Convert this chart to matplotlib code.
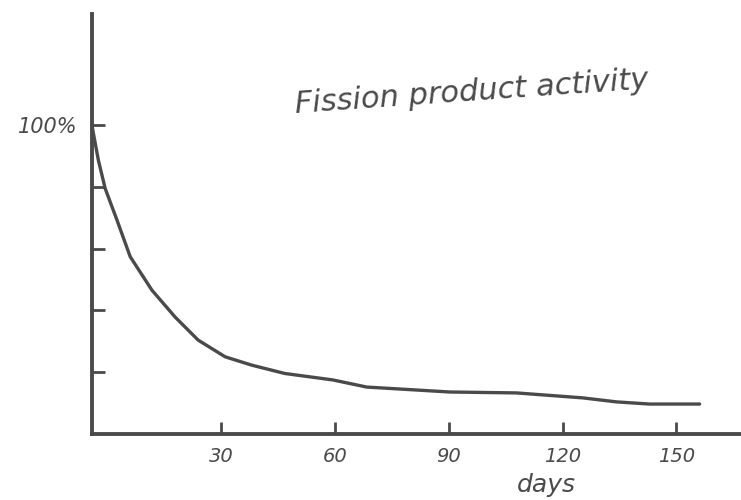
import numpy as np
import matplotlib
matplotlib.use('Agg')
import matplotlib.pyplot as plt

# values
days = [-4.0, -2.3, -0.5, 2.6, 6.1, 11.8, 17.9, 24.0, 31.1, 38.1, 46.8, 59.5, 68.4,
        90.3, 107.9, 125.3, 134.2, 142.9, 156.1]
activity = [100, 88.7, 79.5, 69.3, 57.4, 46.6, 37.9, 30.4, 25.0, 22.3, 19.6, 17.5, 15.2,
            13.6, 13.3, 11.7, 10.4, 9.7, 9.7]
day_ticks = [30, 60, 90, 120, 150]
pct_ticks = [20, 40, 60, 80, 100]
pct_labels = ['', '', '', '', '100%']

ink = '#4a4a4a'

fig = plt.figure(figsize=(7.41, 5), dpi=100)
ax = fig.add_axes([0.124, 0.132, 0.876, 0.84])

ax.plot(days, activity, color=ink, lw=2.4, solid_capstyle='round', solid_joinstyle='round')

ax.set_xlim(-4, 167)
ax.set_ylim(0, 136)

for s in ['top', 'right']:
    ax.spines[s].set_visible(False)
for s in ['left', 'bottom']:
    ax.spines[s].set_color(ink)
    ax.spines[s].set_linewidth(2.8)

ax.set_xticks(day_ticks)
ax.set_xticklabels([str(d) for d in day_ticks], fontstyle='italic', fontsize=14, color=ink)
ax.set_yticks(pct_ticks)
ax.set_yticklabels(pct_labels, fontstyle='italic', fontsize=15, color=ink)
ax.tick_params(axis='x', direction='in', length=9, width=2, color=ink, pad=9)
ax.tick_params(axis='y', direction='in', length=9, width=2, color=ink, pad=10)

ax.set_xlabel('days', fontstyle='italic', fontsize=18, color=ink)
ax.xaxis.set_label_coords(0.70, -0.092)

ax.text(0.585, 0.814, 'Fission product activity', transform=ax.transAxes,
        fontsize=22, fontstyle='italic', color=ink, rotation=4,
        ha='center', va='center')

fig.savefig('out.png', dpi=100)
